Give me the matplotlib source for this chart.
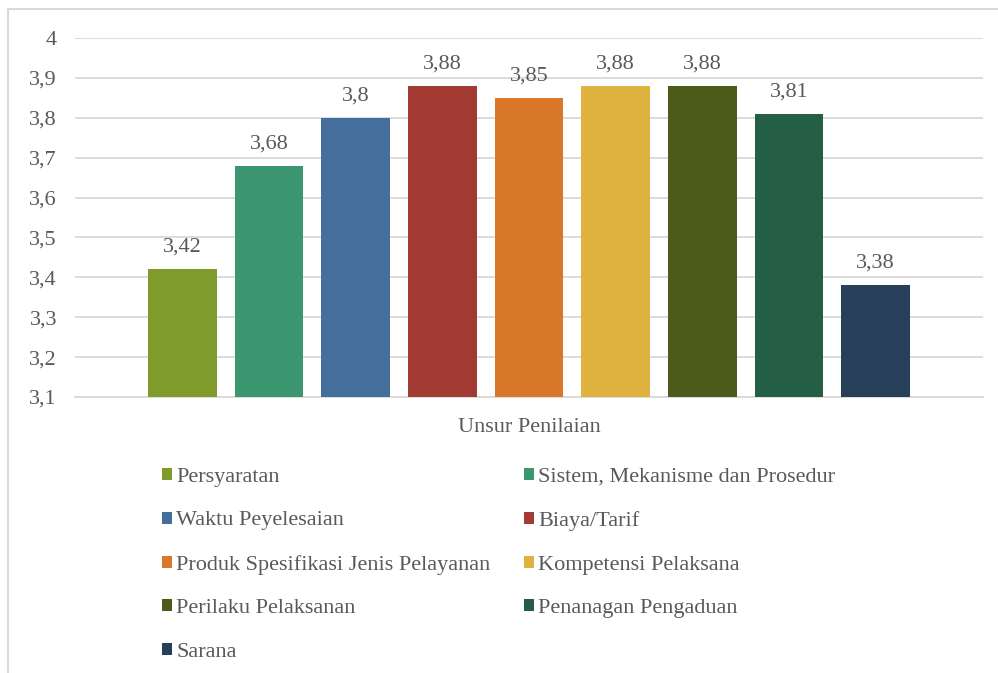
import matplotlib
matplotlib.use("Agg")
import matplotlib.pyplot as plt
from matplotlib.patches import Rectangle

unsur = ['Persyaratan', 'Sistem, Mekanisme dan Prosedur', 'Waktu Peyelesaian',
         'Biaya/Tarif', 'Produk Spesifikasi Jenis Pelayanan', 'Kompetensi Pelaksana',
         'Perilaku Pelaksanan', 'Penanagan Pengaduan', 'Sarana']
nilai = [3.42, 3.68, 3.80, 3.88, 3.85, 3.88, 3.88, 3.81, 3.38]
warna = ['#7F9B2C', '#3C9771', '#446F9D', '#A23B34', '#DA7829',
         '#E0B341', '#4C5A1A', '#235E45', '#283F5A']
yticks = [3.1, 3.2, 3.3, 3.4, 3.5, 3.6, 3.7, 3.8, 3.9, 4.0]

plt.rcParams['font.family'] = ['Liberation Serif', 'DejaVu Serif']
teks = '#595959'
garis = '#D9D9D9'
fs = 16

fig = plt.figure(figsize=(9.98, 6.73), dpi=100)
ax = fig.add_axes([75/998, 1-397/673, 908/998, 359/673])

bars = []
for i, (u, v, c) in enumerate(zip(unsur, nilai, warna)):
    b = ax.bar(i, v - 3.1, bottom=3.1, width=0.79, color=c, label=u, zorder=3)
    bars.append(b)
    lbl = ('%g' % v).replace('.', ',')
    ax.annotate(lbl, (i, v), xytext=(0, 9), textcoords='offset points',
                ha='center', va='bottom', fontsize=fs, color=teks)

ax.set_xlim(-1.24, 9.24)
ax.set_ylim(3.1, 4.0)
ax.set_yticks(yticks)
ax.set_yticklabels([('%g' % t).replace('.', ',') for t in yticks],
                   fontsize=fs, color=teks)
ax.tick_params(axis='y', length=0, pad=13)
ax.set_xticks([])
ax.grid(axis='y', color=garis, linewidth=1.3, zorder=0)
for s in ['top', 'right', 'left']:
    ax.spines[s].set_visible(False)
ax.spines['bottom'].set_color(garis)
ax.spines['bottom'].set_linewidth(1.3)
ax.set_xlabel('Unsur Penilaian', fontsize=fs, color=teks, labelpad=15)

# legend filled row by row: two columns
urut = [0, 2, 4, 6, 8, 1, 3, 5, 7]
ax.legend([bars[k] for k in urut], [unsur[k] for k in urut], ncol=2,
          loc='upper left', bbox_to_anchor=(162/998, 1-468/673),
          bbox_transform=fig.transFigure, frameon=False, fontsize=fs,
          labelcolor=teks, handlelength=0.45, handleheight=0.45,
          handletextpad=0.2, columnspacing=1.5, labelspacing=1.1,
          borderaxespad=0, borderpad=0)

fig.patches.append(Rectangle((8/998, -0.1), 1.2, 1.1 - 9/673,
                             transform=fig.transFigure, fill=False,
                             edgecolor=garis, linewidth=1.5))

fig.savefig('out.png', dpi=100, facecolor='white')
